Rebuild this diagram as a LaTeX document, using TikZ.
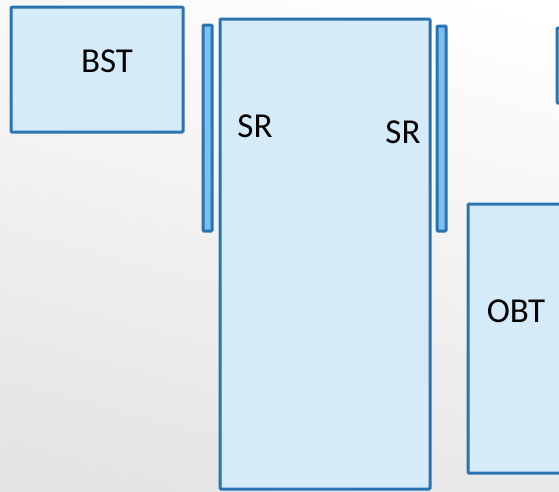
\documentclass[tikz,border=0pt]{standalone}
\usepackage{fontspec}
\setmainfont{Carlito}
\definecolor{edge}{HTML}{2A73B2}
\definecolor{fillb}{HTML}{D6EBFA}
\definecolor{barfill}{HTML}{7DC0EE}
\definecolor{bgdark}{HTML}{E3E3E3}
\begin{document}
\begin{tikzpicture}[x=1pt,y=-1pt,
  box/.style={draw=edge, fill=fillb, line width=3pt, rounded corners=1pt, inner sep=0pt},
  bar/.style={draw=edge, fill=barfill, line width=3pt, rounded corners=1pt, inner sep=0pt},
  lbl/.style={font=\fontsize{35}{42}\selectfont, inner sep=0pt, anchor=center, text=black}]
\useasboundingbox (0,0) rectangle (559,491);
\shade[top color=white, bottom color=bgdark, shading angle=-15] (-40,-40) rectangle (600,531);
% boxes
\node[box, minimum width=172pt, minimum height=125pt] (bst) at (97,69.5) {};
\node[box, minimum width=210pt, minimum height=470pt] (sr) at (325,254) {};
\node[bar, minimum width=9pt, minimum height=206pt] (barl) at (207.5,128) {};
\node[bar, minimum width=9pt, minimum height=205pt] (barr) at (441.5,128.5) {};
\node[box, minimum width=80pt, minimum height=75pt] (topr) at (597,65.5) {};
\node[box, minimum width=140pt, minimum height=269pt] (obt) at (538,338.5) {};
% labels
\node[lbl] (tbst) at (107,61) {BST};
\node[lbl] (tsrl) at (255,126) {SR};
\node[lbl] (tsrr) at (403,132) {SR};
\node[lbl] (tobt) at (516,311) {OBT};
\end{tikzpicture}
\end{document}
